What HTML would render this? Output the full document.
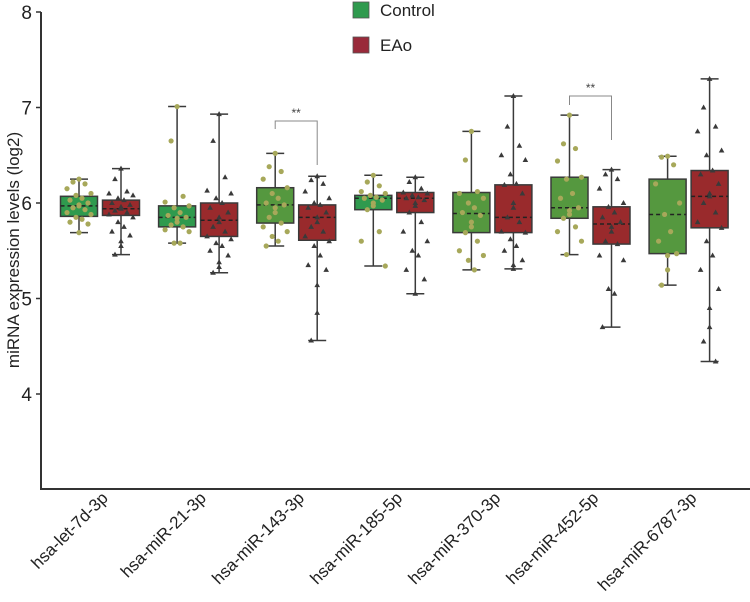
<!DOCTYPE html>
<html><head><meta charset="utf-8">
<style>
body{margin:0;background:#fff;}
svg{display:block;font-family:"Liberation Sans",Arial,sans-serif;}
</style></head>
<body>
<svg id="chart" width="750" height="602"></svg>
<script>
const categories=["hsa-let-7d-3p","hsa-miR-21-3p","hsa-miR-143-3p","hsa-miR-185-5p","hsa-miR-370-3p","hsa-miR-452-5p","hsa-miR-6787-3p"];
const yTicks=[4,5,6,7,8];
// [low, q1, median, q3, high]
const controlStats=[[5.69,5.86,5.97,6.07,6.25],[5.58,5.75,5.85,5.97,7.01],[5.55,5.79,5.98,6.16,6.52],[5.34,5.93,6.05,6.08,6.29],[5.30,5.69,5.89,6.11,6.75],[5.46,5.84,5.95,6.27,6.92],[5.14,5.47,5.88,6.25,6.49]];
const eaoStats=[[5.46,5.87,5.94,6.03,6.36],[5.27,5.65,5.82,6.00,6.93],[4.56,5.61,5.85,5.98,6.28],[5.05,5.90,6.05,6.11,6.27],[5.31,5.69,5.85,6.19,7.12],[4.70,5.57,5.78,5.96,6.35],[4.34,5.74,6.07,6.34,7.30]];
const controlPoints=[
[6.25,6.22,6.2,6.15,6.1,6.08,6.05,6.03,6.0,5.98,5.97,5.95,5.93,5.9,5.88,5.85,5.83,5.8,5.78,5.69],
[7.01,6.65,6.07,6.01,5.97,5.95,5.9,5.87,5.85,5.84,5.8,5.77,5.75,5.72,5.7,5.58,5.58],
[6.52,6.38,6.33,6.25,6.16,6.1,6.05,6.0,5.98,5.95,5.9,5.85,5.79,5.75,5.7,5.65,5.6,5.55],
[6.29,6.22,6.18,6.12,6.1,6.08,6.06,6.05,6.03,6.0,5.97,5.93,5.7,5.6,5.34],
[6.75,6.45,6.12,6.1,6.05,6.0,5.95,5.9,5.87,5.8,5.75,5.69,5.6,5.5,5.45,5.4,5.3],
[6.92,6.62,6.57,6.44,6.27,6.25,6.1,6.05,5.95,5.92,5.88,5.84,5.75,5.7,5.6,5.46],
[6.49,6.48,6.4,6.2,6.0,5.88,5.7,5.6,5.47,5.45,5.3,5.14]];
const eaoPoints=[
[6.36,6.25,6.12,6.1,6.08,6.05,6.03,6.0,5.98,5.96,5.94,5.92,5.9,5.88,5.85,5.8,5.75,5.7,5.66,5.6,5.55,5.46],
[6.93,6.65,6.27,6.13,6.1,6.05,6.0,5.95,5.9,5.85,5.8,5.75,5.7,5.65,5.62,5.58,5.55,5.5,5.45,5.38,5.33,5.27],
[6.28,6.24,6.2,6.12,6.05,6.0,5.98,5.95,5.9,5.85,5.8,5.75,5.7,5.65,5.6,5.55,5.45,5.35,5.3,5.14,4.85,4.56],
[6.27,6.22,6.15,6.11,6.1,6.08,6.06,6.05,6.03,6.0,5.97,5.9,5.8,5.7,5.6,5.5,5.45,5.3,5.2,5.05],
[7.12,6.8,6.6,6.5,6.45,6.3,6.2,6.19,6.1,6.0,5.95,5.85,5.8,5.7,5.69,5.62,5.55,5.5,5.4,5.35,5.31],
[6.35,6.3,6.25,6.15,6.0,5.96,5.9,5.85,5.8,5.75,5.7,5.6,5.57,5.45,5.4,5.1,5.05,4.7],
[7.30,7.0,6.8,6.75,6.55,6.5,6.34,6.3,6.2,6.1,6.07,6.0,5.9,5.8,5.74,5.6,5.45,5.3,5.1,4.9,4.7,4.55,4.34]];
const controlFill=["#2f9a4e","#2f9a4e","#55983f","#2f9a4e","#55983f","#55983f","#55983f"];

const NS="http://www.w3.org/2000/svg";
const svg=document.getElementById('chart');
function el(tag,attrs,parent){const e=document.createElementNS(NS,tag);for(const k in attrs)e.setAttribute(k,attrs[k]);(parent||svg).appendChild(e);return e;}
const y=v=>203-(v-6)*95.5;
const x0=100, step=98.1;
const xc=i=>x0+i*step;
const BW=37, OFF=21;

const yAxis=el('g',{});


el('line',{x1:41,y1:12,x2:41,y2:489,stroke:'#333','stroke-width':2},yAxis);
yTicks.forEach(t=>{
  el('line',{x1:36,x2:41,y1:y(t),y2:y(t),stroke:'#333','stroke-width':1.5},yAxis);
  const tx=el('text',{x:32,y:y(t)+7,'text-anchor':'end','font-size':19,fill:'#222'},yAxis);
  tx.textContent=t;
  
  
});
const yt=el('text',{x:0,y:0,transform:'translate(19,250) rotate(-90)','text-anchor':'middle','font-size':17,fill:'#222'});
yt.textContent='miRNA expression levels (log2)';



const xAxis=el('g',{});


el('line',{x1:40,y1:489,x2:750,y2:489,stroke:'#333','stroke-width':2},xAxis);
categories.forEach((c,i)=>{
  const tx=el('text',{x:0,y:0,transform:`translate(${xc(i)+9},499) rotate(-45)`,'text-anchor':'end','font-size':17,fill:'#222'},xAxis);
  tx.textContent=c;
  
  
});

function drawBox(cx,s,fill,name){
  const g=el('g',{});
  
  
  const st={stroke:'#3a3a3a','stroke-width':1.5};
  el('line',Object.assign({x1:cx,x2:cx,y1:y(s[4]),y2:y(s[0])},st),g);
  el('line',Object.assign({x1:cx-9,x2:cx+9,y1:y(s[4]),y2:y(s[4])},st),g);
  el('line',Object.assign({x1:cx-9,x2:cx+9,y1:y(s[0]),y2:y(s[0])},st),g);
  el('rect',Object.assign({x:cx-BW/2,y:y(s[3]),width:BW,height:y(s[1])-y(s[3]),fill:fill},st),g);
  el('line',{x1:cx-BW/2,x2:cx+BW/2,y1:y(s[2]),y2:y(s[2]),stroke:'#222','stroke-width':1.5,'stroke-dasharray':'4,3'},g);
  return g;
}
const jit=[0,-6,6,-12,12,-3,3,-9,9,0];
categories.forEach((c,i)=>{
  const cxC=xc(i)-OFF, cxE=xc(i)+OFF;
  drawBox(cxC,controlStats[i],controlFill[i],'control-box-'+(i+1));
  drawBox(cxE,eaoStats[i],'#992a2c','eao-box-'+(i+1));
  const pg=el('g',{});
  
  
  controlPoints[i].forEach((v,k)=>{
    el('circle',{cx:cxC+jit[k%jit.length],cy:y(v),r:2.6,fill:'#a7a85a'},pg);
  });
  const eg=el('g',{});
  
  
  eaoPoints[i].forEach((v,k)=>{
    const px=cxE+jit[k%jit.length], py=y(v);
    el('path',{d:`M${px},${py-3} L${px+2.8},${py+2} L${px-2.8},${py+2} Z`,fill:'#3a3a3a'},eg);
  });
});

function bracket(i,yh,yl,yr,name){
  const g=el('g',{});
  
  
  const a=xc(i)-OFF,b=xc(i)+OFF;
  el('path',{d:`M${a},${yl} L${a},${yh} L${b},${yh} L${b},${yr}`,fill:'none',stroke:'#888','stroke-width':1},g);
  const t=el('text',{x:(a+b)/2,y:yh-4,'text-anchor':'middle','font-size':12,fill:'#444'},g);
  t.textContent='**';
}
bracket(2,121,129,165,'significance-bracket-143');
bracket(5,96,105,140,'significance-bracket-452');

const lg=el('g',{});


const l1=el('g',{},lg);


el('rect',{x:353,y:2,width:16,height:16,fill:'#2f9a4e',stroke:'#555','stroke-width':0.8},l1);
const lt1=el('text',{x:380,y:16,'font-size':17,fill:'#222'},l1);lt1.textContent='Control';
const l2=el('g',{},lg);


el('rect',{x:353,y:37,width:16,height:16,fill:'#992a3a',stroke:'#555','stroke-width':0.8},l2);
const lt2=el('text',{x:380,y:51,'font-size':17,fill:'#222'},l2);lt2.textContent='EAo';
</script>
</body></html>
